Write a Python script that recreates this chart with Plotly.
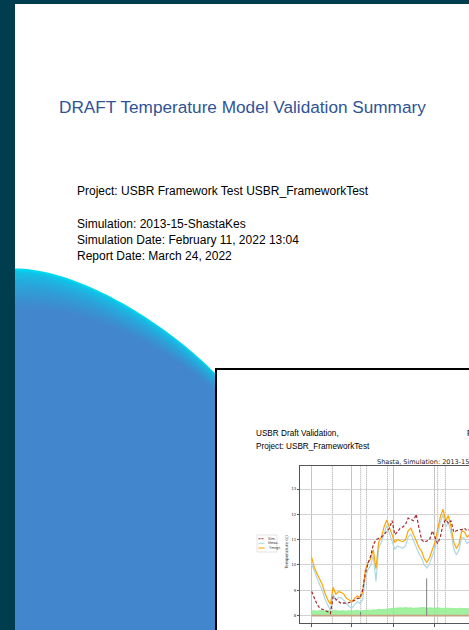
import pandas as pd
import plotly.graph_objects as go

W, H = 469, 630

# ---- data ----
start = pd.Timestamp("2013-11-01")
days = list(range(0, 120, 2))

tmrgt = [10.30, 9.90, 9.65, 9.42, 9.22, 8.88, 8.62, 8.45, 9.12, 8.85,
         8.95, 8.92, 8.85, 8.68, 8.60, 8.55, 8.68, 8.78, 8.72, 8.90,
         9.80, 10.10, 10.25, 10.60, 9.85, 10.90, 11.10, 11.50, 11.78, 11.50,
         11.20, 10.90, 11.00, 10.95, 10.92, 11.00, 11.35, 11.45, 11.20, 10.95,
         10.70, 10.55, 10.25, 10.10, 10.30, 10.60, 10.90, 11.40, 11.90, 12.20,
         11.75, 11.95, 11.50, 10.90, 10.65, 10.85, 11.35, 11.30, 11.10, 11.20]

meas = [10.05, 9.72, 9.48, 9.22, 9.00, 8.65, 8.40, 8.20, 8.85, 8.60,
        8.72, 8.70, 8.60, 8.45, 8.35, 8.30, 8.45, 8.55, 8.48, 8.62,
        9.50, 9.82, 9.98, 10.38, 9.35, 10.68, 10.90, 11.28, 11.55, 11.25,
        10.92, 10.62, 10.75, 10.70, 10.66, 10.75, 11.10, 11.22, 10.95, 10.70,
        10.45, 10.28, 10.00, 9.88, 10.05, 10.35, 10.65, 11.15, 11.68, 12.00,
        11.50, 11.70, 11.25, 10.65, 10.40, 10.60, 11.10, 11.05, 10.85, 10.95]

sim = [8.95, 8.70, 8.45, 8.30, 8.25, 8.22, 8.15, 8.08, 8.75, 8.65,
       8.55, 8.48, 8.50, 8.48, 8.52, 8.55, 8.60, 8.68, 8.68, 9.00,
       9.65, 10.05, 10.35, 10.80, 11.00, 11.05, 11.10, 11.20, 11.35, 11.45,
       11.75, 11.20, 11.30, 11.45, 11.50, 11.60, 11.85, 11.80, 11.75, 12.00,
       11.45, 11.00, 10.90, 10.95, 11.00, 11.35, 11.10, 10.85, 11.10, 11.60,
       11.80, 11.65, 11.75, 11.30, 11.35, 11.40, 11.40, 11.45, 11.35, 11.40]

flow_top = [8.18, 8.20, 8.17, 8.21, 8.19, 8.18, 8.20, 8.17, 8.19, 8.21,
            8.18, 8.20, 8.19, 8.17, 8.20, 8.18, 8.19, 8.21, 8.18, 8.20,
            8.19, 8.22, 8.20, 8.23, 8.22, 8.25, 8.24, 8.26, 8.25, 8.27,
            8.28, 8.30, 8.29, 8.31, 8.30, 8.32, 8.30, 8.31, 8.29, 8.30,
            8.31, 8.30, 8.32, 8.29, 8.31, 8.30, 8.29, 8.31, 8.30, 8.28,
            8.30, 8.29, 8.28, 8.30, 8.27, 8.29, 8.28, 8.27, 8.28, 8.27]
base_level = 8.0

spike_days = [36.5, 85.8]
spike_vals = [8.15, 9.47]
event_days = [15.5, 36.6, 40.9, 56.6, 94.0, 99.8]
yticks = [8, 9, 10, 11, 12, 13]

dates = start + pd.to_timedelta(days, unit="D")


def day(d):
    return start + pd.Timedelta(days=d)


def px(x, y):
    return x / W, 1 - y / H


def path(points):
    s = ""
    for i, (x, y) in enumerate(points):
        fx, fy = px(x, y)
        s += ("M" if i == 0 else "L") + f"{fx:.5f},{fy:.5f} "
    return s + "Z"


def bez(p0, p1, p2, p3, n=40):
    pts = []
    for i in range(n + 1):
        u = i / n
        a, b, c, d = (1 - u) ** 3, 3 * u * (1 - u) ** 2, 3 * u * u * (1 - u), u ** 3
        pts.append((a * p0[0] + b * p1[0] + c * p2[0] + d * p3[0],
                    a * p0[1] + b * p1[1] + c * p2[1] + d * p3[1]))
    return pts


fig = go.Figure()

# green flow band and base line
fig.add_trace(go.Scatter(x=dates, y=[base_level] * len(days), mode="lines",
                         line=dict(color="rgba(0,0,0,0)", width=0), hoverinfo="skip"))
fig.add_trace(go.Scatter(x=dates, y=flow_top, mode="lines", fill="tonexty",
                         fillcolor="rgba(144,238,144,0.85)",
                         line=dict(color="#90ee90", width=0.8)))
fig.add_trace(go.Scatter(x=dates, y=[base_level] * len(days), mode="lines",
                         line=dict(color="#c9a184", width=1.6)))
for d, v in zip(spike_days, spike_vals):
    fig.add_trace(go.Scatter(x=[day(d), day(d)], y=[base_level, v], mode="lines",
                             line=dict(color="#7f7f7f", width=1)))

fig.add_trace(go.Scatter(x=dates, y=meas, name="Meas.", mode="lines",
                         line=dict(color="#add8e6", width=1.2)))
fig.add_trace(go.Scatter(x=dates, y=tmrgt, name="Tmrgt.", mode="lines",
                         line=dict(color="#ffa500", width=1.2)))
fig.add_trace(go.Scatter(x=dates, y=sim, name="Sim.", mode="lines",
                         line=dict(color="#a3282c", width=1.2, dash="3px,2px")))

shapes = []
# blue wave with cyan edge
n_layers = 18
c0, c1 = (0, 216, 240), (66, 135, 206)
for k in range(n_layers):
    t = k / (n_layers - 1)
    curve = bez((15, 268.5), (75, 268.5), (160, 318), (215, 373))
    curve = [(x, y + t * (40 - 22 * (x - 15) / 200)) for x, y in curve]
    e = t ** 0.5
    col = "rgb({},{},{})".format(*[round(a + (b - a) * e) for a, b in zip(c0, c1)])
    pts = [(12, 640)] + [(12, curve[0][1])] + curve + [(217, curve[-1][1]), (217, 640)]
    shapes.append(dict(type="path", xref="paper", yref="paper", path=path(pts),
                       fillcolor=col, line=dict(width=0), layer="below"))

# inset page with black border
x0, y0 = px(216, 369)
x1, y1 = px(472, 633)
shapes.append(dict(type="rect", xref="paper", yref="paper", x0=x0, y0=y1, x1=x1, y1=y0,
                   fillcolor="white", line=dict(color="black", width=2), layer="below"))

# dark frame strips
shapes.append(dict(type="rect", xref="paper", yref="paper", x0=0, x1=15 / W, y0=0, y1=1,
                   fillcolor="#003e4f", line=dict(width=0), layer="above"))
shapes.append(dict(type="rect", xref="paper", yref="paper", x0=0, x1=1, y0=1 - 4 / H, y1=1,
                   fillcolor="#003e4f", line=dict(width=0), layer="above"))

# event markers
for d in event_days:
    shapes.append(dict(type="line", xref="x", yref="y domain", x0=day(d), x1=day(d), y0=0, y1=1,
                       line=dict(color="#8a8a8a", width=0.8, dash="1px,1px"), layer="below"))

# legend box and keys
lx0, ly0 = px(257, 535)
lx1, ly1 = px(277, 552)
shapes.append(dict(type="rect", xref="paper", yref="paper", x0=lx0, y0=ly1, x1=lx1, y1=ly0,
                   fillcolor="white", line=dict(color="#d0d0d0", width=0.6), layer="above"))
legend_rows = [("Sim.", "#a3282c", "2px,1px", 538.7), ("Meas.", "#add8e6", "solid", 543.3),
               ("Tmrgt.", "#ffa500", "solid", 548.0)]
annotations = []
for name, col, dash, yy in legend_rows:
    a0, b0 = px(258.5, yy)
    a1, _ = px(264.5, yy)
    shapes.append(dict(type="line", xref="paper", yref="paper", x0=a0, x1=a1, y0=b0, y1=b0,
                       line=dict(color=col, width=1.1, dash=dash), layer="above"))
    annotations.append(dict(text=name, x=265.5 / W, y=b0, xref="paper", yref="paper",
                            xanchor="left", yanchor="middle", showarrow=False,
                            font=dict(family="DejaVu Sans", size=3.6, color="#333")))


def label(text, x, y, size, color="black", family="Liberation Sans", anchor="left", angle=0):
    fx, fy = px(x, y)
    annotations.append(dict(text=text, x=fx, y=fy, xref="paper", yref="paper",
                            xanchor=anchor, yanchor="middle", showarrow=False, textangle=angle,
                            font=dict(family=family, size=size, color=color)))


label("DRAFT Temperature Model Validation Summary", 243, 106.5, 17.2, color="#2f5496",
      anchor="center")
label("Project: USBR Framework Test USBR_FrameworkTest", 75, 190.5, 12)
label("Simulation: 2013-15-ShastaKes", 75, 224.3, 12)
label("Simulation Date: February 11, 2022 13:04", 75, 240.3, 12)
label("Report Date: March 24, 2022", 75, 256.2, 12)

label("USBR Draft Validation,", 254, 433, 8.2)
label("Project: USBR_FrameworkTest", 254, 446, 8.2)
label("F", 464.5, 433, 8.2)
label("Shasta, Simulation: 2013-15-ShastaKes", 375, 462.5, 6.5, color="#222", family="DejaVu Sans")
label("Temperature (c)", 285.5, 552, 4.2, color="#333", family="DejaVu Sans", anchor="center",
      angle=-90)

fig.update_layout(
    width=W, height=H,
    margin=dict(l=0, r=0, t=0, b=0),
    paper_bgcolor="white",
    plot_bgcolor="rgba(0,0,0,0)",
    showlegend=False,
    shapes=shapes,
    annotations=annotations,
    xaxis=dict(domain=[300 / W, 1], type="date",
               range=[day(-8.7), day(117.4)],
               tick0="2013-11-01", dtick="M1",
               showgrid=True, gridcolor="#c4c4c4", gridwidth=0.8,
               showline=True, linecolor="#555", linewidth=0.8, mirror=True,
               ticks="outside", ticklen=3, tickcolor="#555", showticklabels=False,
               zeroline=False),
    yaxis=dict(domain=[1 - 622.7 / H, 1 - 466 / H],
               range=[7.72, 13.91], tickvals=yticks,
               showgrid=True, gridcolor="#d2d2d2", gridwidth=0.8,
               showline=True, linecolor="#555", linewidth=0.8,
               ticks="outside", ticklen=2, tickcolor="#555",
               tickfont=dict(family="DejaVu Sans", size=4, color="#333"),
               zeroline=False),
)

fig.write_html("out.html", config={"displayModeBar": False},
               post_script="document.body.style.margin='0';document.body.style.overflow='hidden';")
